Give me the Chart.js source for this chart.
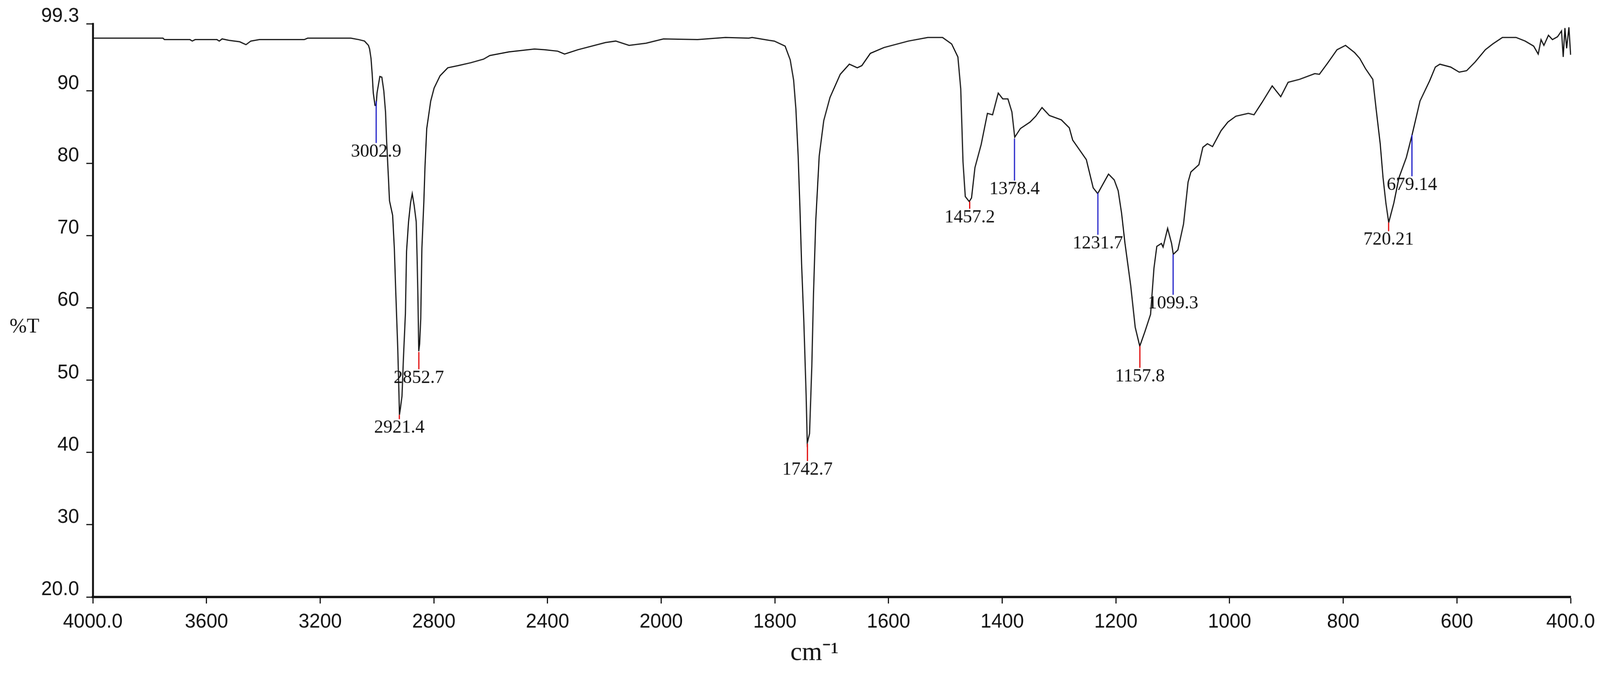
<!DOCTYPE html>
<html>
<head>
<meta charset="utf-8">
<script src="https://cdn.jsdelivr.net/npm/chart.js@4/dist/chart.umd.min.js"></script>
<style>
  html, body { margin: 0; padding: 0; background: #fff; overflow: hidden; }
  #irChart { display: block; }
</style>
</head>
<body>
<!-- laid out on a 4190x1755 grid, shown at the window width -->
<canvas id="irChart" width="4190" height="1755" style="width: 100vw; height: calc(100vw * 1755 / 4190);"></canvas>
<script>
// spectrum (wavenumber in cm-1, transmittance in %T)
const wavenumbers = [
  4000, 3996, 3753, 3748, 3658, 3650, 3640, 3563, 3555, 3545, 3521, 3483, 3461, 3444, 3414,
  3256, 3244, 3195, 3118, 3092, 3064, 3044, 3030, 3026, 3021, 3017, 3013, 3007, 3003, 3000,
  2990, 2983, 2976, 2970, 2966, 2960, 2956, 2945, 2939, 2934, 2927, 2923, 2921, 2918, 2912,
  2907, 2900, 2896, 2889, 2882, 2876, 2869, 2862, 2859, 2856, 2853, 2850, 2846, 2842, 2835,
  2831, 2825, 2818, 2811, 2799, 2778, 2751, 2715, 2670, 2625, 2603, 2536, 2446, 2412, 2364,
  2340, 2293, 2196, 2160, 2113, 2053, 1996, 1936, 1887, 1846, 1840, 1810, 1801, 1782, 1773,
  1767, 1763, 1759, 1756, 1753, 1749, 1745, 1743, 1739, 1735, 1732, 1728, 1722, 1714, 1703,
  1685, 1669, 1655, 1647, 1632, 1608, 1565, 1531, 1505, 1489, 1478, 1473, 1469, 1465, 1458,
  1454, 1448, 1437, 1426, 1417, 1407, 1399, 1390, 1383, 1378, 1368, 1351, 1341, 1330, 1317,
  1296, 1282, 1276, 1252, 1240, 1232, 1213, 1203, 1196, 1190, 1184, 1174, 1166, 1158, 1149,
  1139, 1133, 1128, 1120, 1117, 1109, 1102, 1099, 1091, 1081, 1073, 1068, 1054, 1047, 1039,
  1030, 1015, 1003, 989, 967, 957, 943, 925, 910, 897, 877, 850, 842, 828, 811,
  796, 780, 771, 761, 748, 742, 735, 730, 725, 720, 711, 702, 689, 679, 665,
  648, 638, 630, 611, 596, 583, 568, 550, 537, 520, 496, 480, 465, 457, 452,
  447, 439, 432, 423, 416, 413, 410, 407, 403, 400
];
const transmittance = [
  97.3, 97.3, 97.3, 97.1, 97.1, 96.9, 97.1, 97.1, 96.9, 97.2, 97.0, 96.8, 96.4, 96.9, 97.1,
  97.1, 97.3, 97.3, 97.3, 97.3, 97.1, 96.9, 96.3, 95.8, 94.5, 92.4, 89.7, 88.0, 88.0, 89.7,
  92.0, 91.9, 90.0, 87.1, 83.0, 78.2, 74.8, 72.8, 68.2, 62.2, 54.4, 48.5, 45.2, 46.0, 47.8,
  53.0, 59.2, 67.8, 71.9, 74.5, 75.8, 74.1, 71.9, 67.1, 61.5, 54.0, 55.0, 58.5, 68.2, 74.8,
  79.6, 84.8, 86.7, 88.6, 90.4, 92.1, 93.2, 93.5, 93.9, 94.4, 94.9, 95.4, 95.8, 95.7, 95.5,
  95.1, 95.7, 96.7, 96.9, 96.3, 96.6, 97.2, 97.1, 97.4, 97.3, 97.4, 97.0, 96.9, 96.2, 94.3,
  91.5, 87.5, 81.0, 74.1, 66.1, 58.0, 47.9, 41.3, 42.6, 51.9, 62.0, 72.1, 81.0, 85.9, 89.1,
  92.3, 93.7, 93.2, 93.5, 95.2, 96.0, 96.9, 97.4, 97.4, 96.5, 94.7, 90.3, 80.2, 75.4, 74.7,
  75.2, 79.4, 82.6, 86.9, 86.7, 89.7, 88.9, 88.9, 87.1, 83.6, 84.8, 85.7, 86.5, 87.7, 86.6,
  86.0, 84.9, 83.2, 80.5, 76.6, 75.8, 78.5, 77.7, 76.2, 73.1, 68.9, 63.1, 57.3, 54.7, 56.7,
  59.1, 65.5, 68.5, 68.9, 68.4, 71.0, 68.9, 67.4, 68.0, 71.6, 77.4, 78.8, 79.8, 82.2, 82.7,
  82.3, 84.5, 85.7, 86.5, 86.9, 86.7, 88.4, 90.7, 89.2, 91.2, 91.6, 92.4, 92.3, 93.8, 95.7,
  96.3, 95.3, 94.5, 93.1, 91.6, 87.4, 82.7, 78.0, 74.5, 71.8, 74.5, 78.0, 80.8, 83.9, 88.6,
  91.4, 93.3, 93.7, 93.3, 92.6, 92.8, 94.0, 95.7, 96.5, 97.4, 97.4, 96.9, 96.2, 95.1, 97.1,
  96.3, 97.7, 97.1, 97.5, 98.3, 94.7, 98.7, 95.9, 98.8, 95.0
];

// picked peaks: position, label, %T where the marker starts (on the curve) and ends
const peakWavenumbers = [3002.9, 2921.4, 2852.7, 1742.7, 1457.2, 1378.4, 1231.7, 1157.8, 1099.3, 720.21, 679.14];
const peakLabels = ["3002.9", "2921.4", "2852.7", "1742.7", "1457.2", "1378.4", "1231.7", "1157.8", "1099.3", "720.21", "679.14"];
const peakTopT = [88.6, 45.2, 53.9, 41.2, 74.7, 83.4, 75.9, 54.7, 67.4, 71.8, 83.9];
const peakEndT = [82.8, 44.6, 51.5, 38.8, 73.7, 77.6, 70.1, 51.7, 61.8, 70.6, 78.2];
const peakLineColors = ["#1c1cc8", "#e00000", "#e00000", "#e00000", "#e00000", "#1c1cc8",
  "#1c1cc8", "#e00000", "#1c1cc8", "#e00000", "#1c1cc8"];

const xTickValues = [4000, 3600, 3200, 2800, 2400, 2000, 1800, 1600, 1400, 1200, 1000, 800, 600, 400];
const xTickLabels = ["4000.0", "3600", "3200", "2800", "2400", "2000", "1800", "1600", "1400", "1200", "1000", "800", "600", "400.0"];
const yTickValues = [20, 30, 40, 50, 60, 70, 80, 90, 99.3];
const yTickLabels = ["20.0", "30", "40", "50", "60", "70", "80", "90", "99.3"];

// wavenumber axis with the usual scale change at 2000 cm-1 (below 2000 is stretched 2x)
class FtirScale extends Chart.LinearScale {
  determineDataLimits() {
    this.min = 400;
    this.max = 4000;
  }
  buildTicks() {
    return xTickValues.map(v => ({ value: v }));
  }
  getPixelForValue(value) {
    const u = value >= 2000 ? (4000 - value) / 2 : 1000 + (2000 - value);
    return this.left + this.width * u / 2600;
  }
  getValueForPixel(pixel) {
    const u = (pixel - this.left) / this.width * 2600;
    return u <= 1000 ? 4000 - 2 * u : 2000 - (u - 1000);
  }
}
FtirScale.id = "ftir";
FtirScale.defaults = {};
Chart.register(FtirScale);

const peakMarks = {
  id: "peakMarks",
  afterDatasetsDraw(chart) {
    const { ctx, scales: { x, y } } = chart;
    ctx.save();
    peakWavenumbers.forEach((w, i) => {
      const px = x.getPixelForValue(w);
      const y0 = y.getPixelForValue(peakTopT[i]);
      const y1 = y.getPixelForValue(peakEndT[i]);
      ctx.strokeStyle = peakLineColors[i];
      ctx.lineWidth = 3;
      ctx.beginPath();
      ctx.moveTo(px, y0);
      ctx.lineTo(px, y1);
      ctx.stroke();
      ctx.fillStyle = "#111";
      ctx.font = '48px "Liberation Serif"';
      ctx.textAlign = "center";
      ctx.textBaseline = "top";
      ctx.fillText(peakLabels[i], px, y1 - 1);
    });
    ctx.restore();
  }
};

const axisTitles = {
  id: "axisTitles",
  afterDraw(chart) {
    const ctx = chart.ctx;
    ctx.save();
    ctx.fillStyle = "#111";
    ctx.textAlign = "center";
    ctx.textBaseline = "alphabetic";
    ctx.font = '54px "Liberation Serif"';
    ctx.fillText("%T", 64, 870);
    ctx.font = '68px "Liberation Serif"';
    ctx.fillText("cm\u207B\u00B9", 2133, 1727);
    ctx.restore();
  }
};

function fixWidth(w) {
  return s => {
    s.width = w;
    s.paddingTop = 0; s.paddingBottom = 0; s.paddingLeft = 0; s.paddingRight = 0;
  };
}
function fixHeight(h) {
  return s => {
    s.height = h;
    s.paddingTop = 0; s.paddingBottom = 0; s.paddingLeft = 0; s.paddingRight = 0;
  };
}

new Chart(document.getElementById("irChart"), {
  type: "line",
  data: {
    datasets: [{
      data: wavenumbers.map((w, i) => ({ x: w, y: transmittance[i] })),
      borderColor: "#111",
      borderWidth: 3,
      pointRadius: 0,
      tension: 0,
      fill: false
    }]
  },
  options: {
    responsive: false,
    animation: false,
    devicePixelRatio: 1,
    layout: { padding: { top: 62, right: 77, left: 0, bottom: 0 } },
    plugins: {
      legend: { display: false },
      tooltip: { enabled: false }
    },
    scales: {
      x: {
        type: "ftir",
        position: "bottom",
        afterFit: fixHeight(193),
        border: { display: true, color: "#111", width: 6 },
        grid: { drawOnChartArea: false, drawTicks: true, tickLength: 17, tickColor: "#111", tickWidth: 3 },
        ticks: {
          autoSkip: false,
          maxRotation: 0,
          padding: 18,
          color: "#111",
          font: { family: "Liberation Sans", size: 51 },
          callback: (value, index) => xTickLabels[index]
        }
      },
      y: {
        type: "linear",
        min: 20,
        max: 99.3,
        afterFit: fixWidth(243),
        afterBuildTicks: s => { s.ticks = yTickValues.map(v => ({ value: v })); },
        border: { display: true, color: "#111", width: 5 },
        grid: { drawOnChartArea: false, drawTicks: true, tickLength: 17, tickColor: "#111", tickWidth: 3 },
        ticks: {
          padding: 19,
          labelOffset: -19,
          color: "#111",
          font: { family: "Liberation Sans", size: 51 },
          callback: (value, index) => yTickLabels[index]
        }
      }
    }
  },
  plugins: [peakMarks, axisTitles]
});
</script>
</body>
</html>
